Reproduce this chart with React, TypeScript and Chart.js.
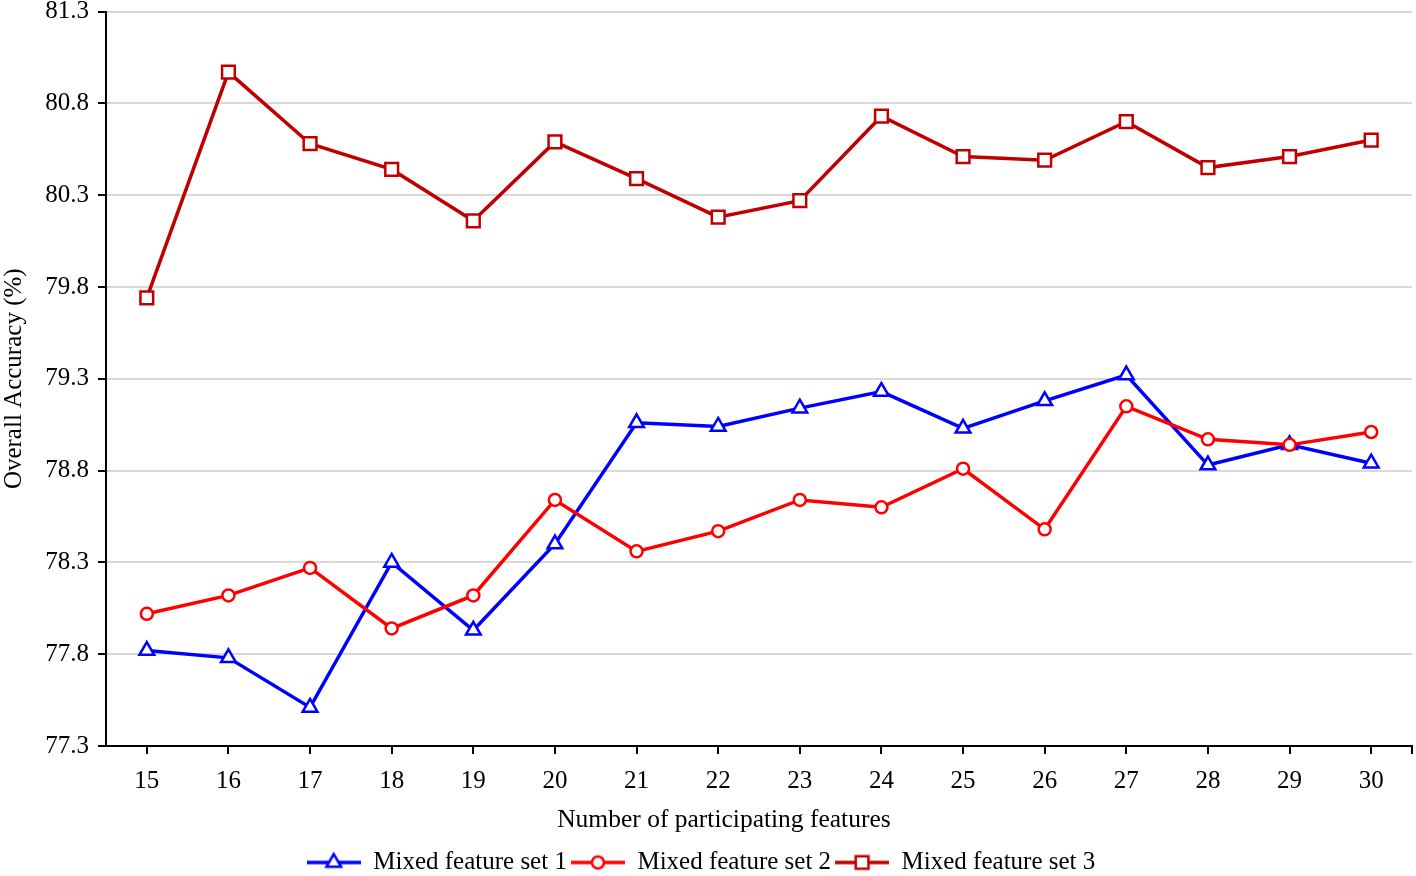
import React, { useEffect, useRef } from "react";
import { Chart, registerables } from "chart.js";
Chart.register(...registerables);

const categories = ["15", "16", "17", "18", "19", "20", "21", "22", "23", "24", "25", "26", "27", "28", "29", "30"];
const set1 = [77.82, 77.78, 77.51, 78.30, 77.93, 78.40, 79.06, 79.04, 79.14, 79.23, 79.03, 79.18, 79.32, 78.83, 78.94, 78.84];
const set2 = [78.02, 78.12, 78.27, 77.94, 78.12, 78.64, 78.36, 78.47, 78.64, 78.60, 78.81, 78.48, 79.15, 78.97, 78.94, 79.01];
const set3 = [79.74, 80.97, 80.58, 80.44, 80.16, 80.59, 80.39, 80.18, 80.27, 80.73, 80.51, 80.49, 80.70, 80.45, 80.51, 80.60];
const yTicks = [77.3, 77.8, 78.3, 78.8, 79.3, 79.8, 80.3, 80.8, 81.3];
const seriesNames = ["Mixed feature set 1", "Mixed feature set 2", "Mixed feature set 3"];
const seriesColors = ["#0000FF", "#FF0000", "#C00000"];
const seriesStyles = ["triangle", "circle", "rect"];
const seriesRadius = [8.5, 6, 9];

const FONT = "'Liberation Serif', 'Times New Roman', serif";

function drawShape(ctx: CanvasRenderingContext2D, style: string, x: number, y: number, r: number) {
  ctx.beginPath();
  if (style === "triangle") {
    let rad = 0;
    ctx.moveTo(x + Math.sin(rad) * r, y - Math.cos(rad) * r);
    rad += (2 * Math.PI) / 3;
    ctx.lineTo(x + Math.sin(rad) * r, y - Math.cos(rad) * r);
    rad += (2 * Math.PI) / 3;
    ctx.lineTo(x + Math.sin(rad) * r, y - Math.cos(rad) * r);
    ctx.closePath();
  } else if (style === "circle") {
    ctx.arc(x, y, r, 0, Math.PI * 2);
    ctx.closePath();
  } else {
    const s = Math.SQRT1_2 * r;
    ctx.rect(x - s, y - s, 2 * s, 2 * s);
  }
  ctx.fill();
  ctx.stroke();
}

function legendIcon(color: string, style: string, r: number) {
  const c = document.createElement("canvas");
  c.width = 54;
  c.height = 22;
  const ctx = c.getContext("2d")!;
  ctx.strokeStyle = color;
  ctx.lineWidth = 3.5;
  ctx.beginPath();
  ctx.moveTo(0, 11);
  ctx.lineTo(54, 11);
  ctx.stroke();
  ctx.fillStyle = "#ffffff";
  ctx.lineWidth = 2.5;
  drawShape(ctx, style, 27, 11, r);
  return c;
}

// short x-axis tick marks (at every category and at the right end of the axis)
const xTickMarks = {
  id: "xTickMarks",
  afterDraw(chart: any) {
    const { ctx, chartArea } = chart;
    const xs = chart.scales.x;
    ctx.save();
    ctx.strokeStyle = "#000";
    ctx.lineWidth = 2;
    ctx.beginPath();
    for (let i = 0; i < xs.ticks.length; i++) {
      const px = Math.round(xs.getPixelForTick(i));
      ctx.moveTo(px, chartArea.bottom);
      ctx.lineTo(px, chartArea.bottom + 8);
    }
    ctx.moveTo(chartArea.right, chartArea.bottom);
    ctx.lineTo(chartArea.right, chartArea.bottom + 8);
    ctx.stroke();
    ctx.restore();
  },
};

export default function App() {
  const ref = useRef<HTMLCanvasElement | null>(null);
  useEffect(() => {
    if (!ref.current) return;
    const seriesData = [set1, set2, set3];
    const icons = seriesColors.map((c, i) => legendIcon(c, seriesStyles[i], seriesRadius[i]));
    const font = { family: FONT, size: 25 };
    const chart = new Chart(ref.current, {
      type: "line",
      data: {
        labels: categories,
        datasets: seriesData.map((d, i) => ({
          label: seriesNames[i],
          data: d,
          borderColor: seriesColors[i],
          backgroundColor: "#ffffff",
          borderWidth: 3.5,
          pointStyle: seriesStyles[i] as any,
          pointRadius: seriesRadius[i],
          pointBackgroundColor: "#ffffff",
          pointBorderColor: seriesColors[i],
          pointBorderWidth: 2.5,
          tension: 0,
          fill: false,
          order: 3 - i,
        })),
      },
      options: {
        animation: false,
        responsive: false,
        layout: { padding: { top: 10, right: 12, left: -10, bottom: -9 } },
        plugins: {
          tooltip: { enabled: false },
          legend: {
            position: "bottom",
            labels: {
              usePointStyle: true,
              pointStyleWidth: 54,
              padding: 4,
              font,
              color: "#000",
              sort: (a: any, b: any) => a.datasetIndex - b.datasetIndex,
              generateLabels: (ch: any) => {
                const items = Chart.defaults.plugins.legend.labels.generateLabels(ch);
                return items.map((it: any) => ({ ...it, pointStyle: icons[it.datasetIndex] }));
              },
            },
          },
        },
        scales: {
          x: {
            offset: true,
            grid: { display: true, drawOnChartArea: false, offset: false, tickColor: "rgba(0,0,0,0)", tickLength: 20, tickWidth: 2 },
            border: { display: true, color: "#000", width: 2 },
            ticks: { font, color: "#000", padding: 0, maxRotation: 0, autoSkip: false },
            title: {
              display: true,
              text: "Number of participating features           ",
              font: { family: FONT, size: 25.5 },
              color: "#000",
              padding: { top: 4, bottom: 10 },
            },
            afterFit: (s: any) => { s.height = 100; s.paddingLeft = 0; s.paddingRight = 0; },
          },
          y: {
            min: 77.3,
            max: 81.3,
            afterBuildTicks: (s: any) => { s.ticks = yTicks.map((v) => ({ value: v })); },
            ticks: { font: { family: FONT, size: 25, lineHeight: 1 }, color: "#000", padding: 9, callback: (v: any) => Number(v).toFixed(1) },
            grid: {
              color: (c: any) => (c.tick && Math.abs(c.tick.value - 77.3) < 1e-6 ? "rgba(0,0,0,0)" : "#d9d9d9"),
              lineWidth: 2,
              tickColor: "#000",
              tickLength: 8,
              tickWidth: 2,
            },
            border: { display: true, color: "#000", width: 2 },
            title: { display: true, text: "Overall Accuracy (%)", font, color: "#000", padding: { top: 9, bottom: 0 } },
            afterFit: (s: any) => { s.width = 116; s.paddingTop = 0; s.paddingBottom = 0; },
          },
        },
      },
      plugins: [xTickMarks],
    });
    return () => chart.destroy();
  }, []);
  return (
    <div style={{ position: "absolute", left: 0, top: 0, width: 1416, height: 876, background: "#fff", overflow: "hidden" }}>
      <canvas ref={ref} width={1424} height={876} style={{ display: "block" }} />
    </div>
  );
}
